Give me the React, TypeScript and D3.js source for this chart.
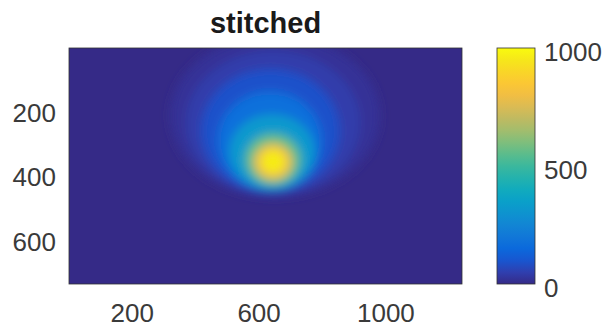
import React, { useEffect, useRef } from 'react';
import * as d3 from 'd3';

const title = 'stitched';
const xTicks = [200, 600, 1000];
const yTicks = [200, 400, 600];
const cbTicks = [0, 500, 1000];
const xExtent = [0.5, 1240];
const yExtent = [0.5, 730];
const cLimits = [0, 1000];

// intensity levels (outer -> inner), centre and half widths in pixel units
const levelValues = [20, 45, 90, 170, 320, 560, 800, 960];
const levelCx = [650, 644, 636, 634, 641, 644, 644, 644];
const levelCy = [210, 232, 256, 287, 322, 345, 352, 352];
const levelRx = [330, 275, 218, 165, 135, 88, 60, 38];
const levelRy = [250, 223, 190, 153, 117, 80, 56, 36];

// parula colormap stops
const parula = [
  '#352a87', '#3243ba', '#0363e1', '#1173d9', '#1485d4', '#0c97ce',
  '#06a7c6', '#1fb1b0', '#38b99e', '#63bd88', '#92bf73', '#baba63',
  '#d9ba56', '#fbbd3d', '#fcce2e', '#f4e21d', '#f9fb0e'
];

function App() {
  const ref = useRef<SVGSVGElement>(null);

  useEffect(() => {
    const width = 604;
    const height = 328;
    const m = { left: 69, right: 462, top: 48, bottom: 284 };

    const svg = d3.select(ref.current)
      .attr('width', width)
      .attr('height', height);
    svg.selectAll('*').remove();

    const x = d3.scaleLinear().domain(xExtent).range([m.left, m.right]);
    const y = d3.scaleLinear().domain(yExtent).range([m.top, m.bottom]);
    const color = d3.scaleSequential(d3.interpolateRgbBasis(parula)).domain(cLimits);

    const defs = svg.append('defs');
    defs.append('clipPath').attr('id', 'plotclip')
      .append('rect')
      .attr('x', m.left).attr('y', m.top)
      .attr('width', m.right - m.left).attr('height', m.bottom - m.top);
    const f = defs.append('filter').attr('id', 'soft')
      .attr('x', '-50%').attr('y', '-50%').attr('width', '200%').attr('height', '200%');
    f.append('feGaussianBlur').attr('stdDeviation', 5);

    // background (value ~0)
    svg.append('rect')
      .attr('x', m.left).attr('y', m.top)
      .attr('width', m.right - m.left).attr('height', m.bottom - m.top)
      .attr('fill', color(0));

    const levels = levelValues.map((v, i) => ({
      v, cx: levelCx[i], cy: levelCy[i], rx: levelRx[i], ry: levelRy[i]
    }));

    svg.append('g').attr('clip-path', 'url(#plotclip)')
      .append('g').attr('filter', 'url(#soft)')
      .selectAll('ellipse')
      .data(levels)
      .enter()
      .append('ellipse')
      .attr('cx', d => x(d.cx))
      .attr('cy', d => y(d.cy))
      .attr('rx', d => x(d.cx + d.rx) - x(d.cx))
      .attr('ry', d => y(d.cy + d.ry) - y(d.cy))
      .attr('fill', d => color(d.v));

    svg.append('rect')
      .attr('x', m.left).attr('y', m.top)
      .attr('width', m.right - m.left).attr('height', m.bottom - m.top)
      .attr('fill', 'none')
      .attr('stroke', '#333')
      .attr('stroke-width', 0.8);

    const font = '"Liberation Sans", Arial, sans-serif';

    svg.selectAll('.xt')
      .data(xTicks)
      .enter()
      .append('text')
      .attr('x', d => x(d))
      .attr('y', 322)
      .attr('text-anchor', 'middle')
      .attr('font-family', font)
      .attr('font-size', 26)
      .attr('fill', '#3a3a3a')
      .text(d => d);

    svg.selectAll('.yt')
      .data(yTicks)
      .enter()
      .append('text')
      .attr('x', 56)
      .attr('y', d => y(d))
      .attr('dy', '0.35em')
      .attr('text-anchor', 'end')
      .attr('font-family', font)
      .attr('font-size', 26)
      .attr('fill', '#3a3a3a')
      .text(d => d);

    svg.append('text')
      .attr('x', (m.left + m.right) / 2)
      .attr('y', 33)
      .attr('text-anchor', 'middle')
      .attr('font-family', font)
      .attr('font-weight', 'bold')
      .attr('font-size', 29)
      .attr('fill', '#1a1a1a')
      .text(title);

    // colorbar
    const cb = { x: 497, w: 38, top: 48, bottom: 284 };
    const cy = d3.scaleLinear().domain(cLimits).range([cb.bottom, cb.top]);
    const grad = defs.append('linearGradient').attr('id', 'cbgrad')
      .attr('x1', 0).attr('y1', 1).attr('x2', 0).attr('y2', 0);
    grad.selectAll('stop')
      .data(d3.range(0, 1.0001, 0.05))
      .enter()
      .append('stop')
      .attr('offset', d => d)
      .attr('stop-color', d => color(cLimits[0] + d * (cLimits[1] - cLimits[0])));

    svg.append('rect')
      .attr('x', cb.x).attr('y', cb.top)
      .attr('width', cb.w).attr('height', cb.bottom - cb.top)
      .attr('fill', 'url(#cbgrad)')
      .attr('stroke', '#333')
      .attr('stroke-width', 0.8);

    svg.selectAll('.ct')
      .data(cbTicks)
      .enter()
      .append('text')
      .attr('x', 544)
      .attr('y', d => cy(d) + 4)
      .attr('dy', '0.35em')
      .attr('font-family', font)
      .attr('font-size', 26)
      .attr('fill', '#3a3a3a')
      .text(d => d);
  }, []);

  return (
    <div>
      <svg ref={ref} style={{ position: 'absolute', left: 0, top: 0, background: '#fff' }}></svg>
    </div>
  );
}

export default App;
